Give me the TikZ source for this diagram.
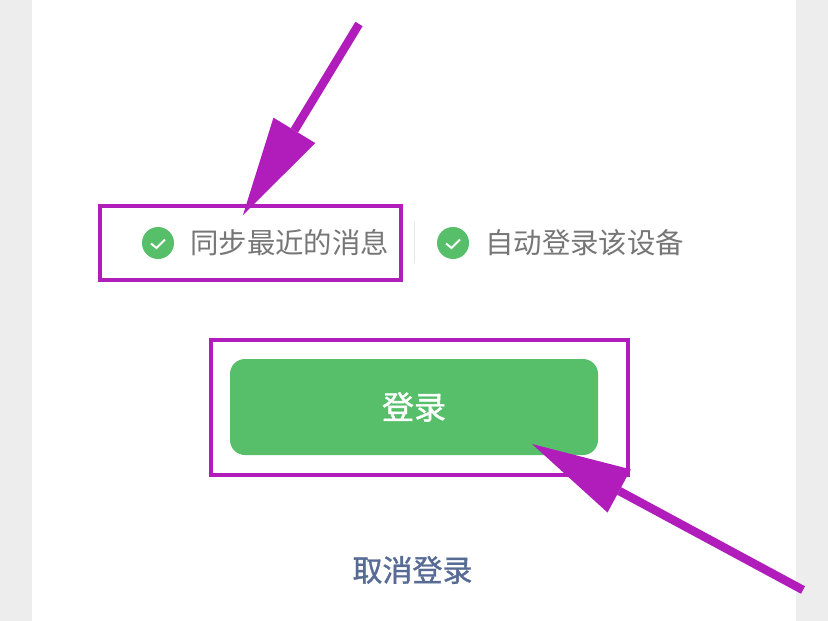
\documentclass[tikz,border=0pt]{standalone}
\usepackage{fontspec}
\newfontfamily\cjk{Noto Sans CJK SC}
\newfontfamily\cjkm[FakeBold=1.2]{Noto Sans CJK SC}
\usetikzlibrary{arrows.meta,calc}

\definecolor{wxgreen}{HTML}{57BE6A}
\definecolor{markpurple}{HTML}{B01DBB}
\definecolor{tipgray}{HTML}{767676}
\definecolor{linkblue}{HTML}{576B95}
\definecolor{sidegray}{HTML}{EDEDED}
\definecolor{sepgray}{HTML}{E6E6E6}

\tikzset{
  markbox/.style={draw=markpurple, line width=4pt, inner sep=0pt},
  markarrow/.style={draw=markpurple, line width=8.5pt,
    -{Triangle[length=99pt,width=49pt,line width=0pt]}},
  tick/.style={circle, fill=wxgreen, minimum size=32pt, inner sep=0pt},
  tiptext/.style={anchor=west, inner sep=0pt, text=tipgray,
    font={\cjk\fontsize{28.4}{34}\selectfont}}
}

\begin{document}
\begin{tikzpicture}[x=1pt,y=-1pt]

  \useasboundingbox (0,0) rectangle (828,621);
  \fill[white] (0,0) rectangle (828,621);
  \fill[sidegray] (0,0) rectangle (32,621);
  \fill[sidegray] (796,0) rectangle (828,621);

  \foreach \x/\n/\txt in {158/S/同步最近的消息, 453/A/自动登录该设备}{
    \node[tick] (C\n) at (\x,243) {};
    \draw[white, line width=2pt] ($(C\n)+(-7,0.5)$) -- ++(5.5,4.5) -- ++(8.5,-8.5);
    \node[tiptext] (T\n) at (\x+32,243) {\txt};
  }
  \draw[sepgray, line width=1pt] (414,222) -- (414,263);

  \node[fill=wxgreen, rounded corners=15pt, minimum width=368pt,
    minimum height=96pt, text=white,
    font={\cjkm\fontsize{32}{38}\selectfont}] (Login) at (414,407) {登录};

  \node[text=linkblue, inner sep=0pt,
    font={\cjkm\fontsize{30}{36}\selectfont}] (Cancel) at (412.5,570) {取消登录};

  \node[markbox, minimum width=301pt, minimum height=74pt] (BoxS) at (250.5,243) {};
  \node[markbox, minimum width=417pt, minimum height=135pt] (BoxL) at (419.5,407.5) {};

  \coordinate (Q1) at (359,24);
  \coordinate (P1) at (243,215);
  \draw[markarrow] (Q1) -- (P1);

  \coordinate (Q2) at (803,590);
  \coordinate (P2) at (532,444);
  \draw[markarrow] (Q2) -- (P2);

\end{tikzpicture}
\end{document}
